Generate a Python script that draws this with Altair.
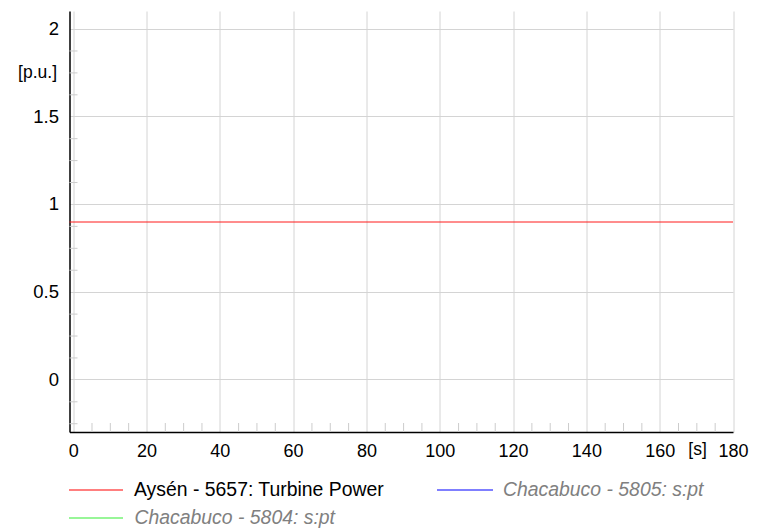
import altair as alt
import pandas as pd

# ---- data ----
time_s = [-1, 180]
turbine_power = [0.9, 0.9]

x_major = [0, 20, 40, 60, 80, 100, 120, 140, 160, 180]
y_major = [0, 0.5, 1, 1.5, 2]
x_minor = [5, 10, 15, 25, 30, 35, 45, 50, 55, 65, 70, 75, 85, 90, 95,
           105, 110, 115, 125, 130, 135, 145, 150, 155, 165, 170, 175]
y_minor = [-0.25, -0.125, 0.125, 0.25, 0.375, 0.625, 0.75, 0.875,
           1.125, 1.25, 1.375, 1.625, 1.75, 1.875]

legend_labels = ["Aysén - 5657: Turbine Power", "Chacabuco - 5805: s:pt", "Chacabuco - 5804: s:pt"]
legend_colors = ["#ff0000", "#0000ff", "#33ee33"]

FONT = "Liberation Sans"
W, H = 663.5, 421
XD = [-1, 180]
YD = [-0.3, 2.1]

xs = alt.Scale(domain=XD, nice=False, zero=False)
ys = alt.Scale(domain=YD, nice=False, zero=False)

x_axis = alt.Axis(values=x_major, grid=True, gridColor="#d4d4d4", gridWidth=1, tickSize=0,
                  domainColor="black", domainWidth=1.5, labelFontSize=18, labelFont=FONT,
                  labelColor="black", labelPadding=10, title=None, labelFlush=False)
y_axis = alt.Axis(values=y_major, grid=True, gridColor="#d4d4d4", gridWidth=1, tickSize=0,
                  domainColor="black", domainWidth=1.5, labelFontSize=18.5, labelFont=FONT,
                  labelColor="black", labelPadding=11, title=None, format="~g")

df = pd.DataFrame({"t": time_s, "p": turbine_power})

xminor = alt.Chart(pd.DataFrame({"t": x_minor})).mark_rule(
    stroke="#cccccc", strokeWidth=1, xOffset=0.5).encode(
    x=alt.X("t:Q", scale=xs, axis=x_axis), y=alt.value(H), y2=alt.value(H - 9))
yminor = alt.Chart(pd.DataFrame({"p": y_minor})).mark_rule(
    stroke="#cccccc", strokeWidth=1, yOffset=0.5).encode(
    y=alt.Y("p:Q", scale=ys, axis=y_axis), x=alt.value(0), x2=alt.value(8))

line = alt.Chart(df).mark_line(color="#ff1a1a", strokeWidth=1, yOffset=0.5).encode(
    x=alt.X("t:Q", scale=xs, axis=x_axis), y=alt.Y("p:Q", scale=ys, axis=y_axis))

unit_y = alt.Chart(pd.DataFrame({"s": ["[p.u.]"]})).mark_text(
    font=FONT, fontSize=17.5, color="black", align="right", baseline="middle").encode(
    text="s:N", x=alt.value(-12.5), y=alt.value(61.5))
unit_x = alt.Chart(pd.DataFrame({"s": ["[s]"]})).mark_text(
    font=FONT, fontSize=17.5, color="black", align="center", baseline="middle").encode(
    text="s:N", x=alt.value(628), y=alt.value(439))

# custom legend
def leg_line(i, x0, x1, y):
    return alt.Chart(pd.DataFrame({"c": [legend_colors[i]]})).mark_rule(
        stroke=legend_colors[i], strokeWidth=1.2).encode(
        x=alt.value(x0), x2=alt.value(x1), y=alt.value(y))

def leg_text(i, x0, y, italic):
    return alt.Chart(pd.DataFrame({"s": [legend_labels[i]]})).mark_text(
        font=FONT, fontSize=19.4, align="left", baseline="middle",
        color="#808080" if italic else "black",
        fontStyle="italic" if italic else "normal").encode(
        text="s:N", x=alt.value(x0), y=alt.value(y))

legend = (leg_line(0, -0.5, 53.5, 479) + leg_text(0, 64.5, 479, False)
          + leg_line(1, 367.5, 423.5, 479) + leg_text(1, 433.5, 479, True)
          + leg_line(2, -0.5, 53.5, 507) + leg_text(2, 65, 507, True))

chart = alt.layer(line, xminor, yminor, unit_y, unit_x, legend).properties(
    width=W, height=H,
    autosize=alt.AutoSizeParams(type="none"),
    padding={"left": 69.5, "top": 11, "right": 26, "bottom": 97},
    background="white",
).configure_view(stroke=None)

chart.save("out.html", embed_options={"renderer": "svg", "actions": False})
